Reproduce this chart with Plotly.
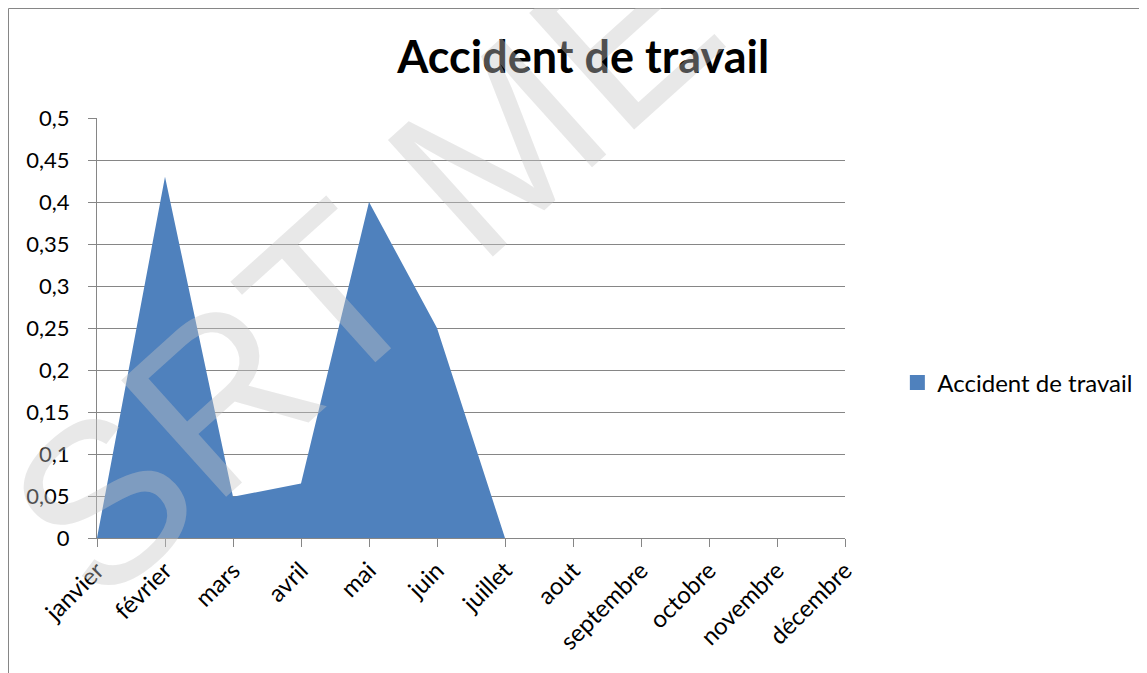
import plotly.graph_objects as go

# mois et valeurs
mois = ["janvier", "février", "mars", "avril", "mai", "juin", "juillet",
        "aout", "septembre", "octobre", "novembre", "décembre"]
accidents = [0, 0.43, 0.049, 0.065, 0.40, 0.25, 0, None, None, None, None, None]

y_tick_vals = [0, 0.05, 0.1, 0.15, 0.2, 0.25, 0.3, 0.35, 0.4, 0.45, 0.5]
y_tick_text = ["0", "0,05", "0,1", "0,15", "0,2", "0,25", "0,3", "0,35", "0,4", "0,45", "0,5"]

serie = "Accident de travail"
bleu = "#4F81BD"
gris = "#868686"
police = "Lato, Calibri, sans-serif"

fig = go.Figure()

fig.add_trace(go.Scatter(
    x=mois,
    y=accidents,
    mode="lines",
    line=dict(width=0, color=bleu),
    fill="tozeroy",
    fillcolor=bleu,
    showlegend=False,
    name=serie,
))

# entree de legende carree, comme dans Excel
fig.add_trace(go.Scatter(
    x=[None],
    y=[None],
    mode="markers",
    marker=dict(symbol="square", size=15, color=bleu),
    name=serie,
))

# la page html ajoute 8px de marge autour de la figure
fig.update_layout(
    width=1147,
    height=673,
    paper_bgcolor="white",
    plot_bgcolor="white",
    font=dict(family=police, size=22, color="black"),
    margin=dict(l=89, r=310, t=110, b=143, autoexpand=False),
    title=dict(
        text="<b>Accident de travail</b>",
        font=dict(family=police, size=45, color="black"),
        x=0.650, xref="paper", xanchor="center",
        y=1 - 49 / 673, yref="container", yanchor="middle",
    ),
    legend=dict(
        x=1.07, y=0.369, xanchor="left", yanchor="middle",
        font=dict(family=police, size=24, color="black"),
        bgcolor="rgba(0,0,0,0)",
    ),
    xaxis=dict(
        type="category",
        range=[0, 11],
        showgrid=False,
        showline=True,
        linecolor=gris,
        linewidth=1,
        ticks="outside",
        ticklen=8,
        tickcolor=gris,
        tickangle=-45,
        tickfont=dict(size=24),
        fixedrange=True,
    ),
    yaxis=dict(
        range=[0, 0.5],
        tickvals=y_tick_vals,
        ticktext=y_tick_text,
        showgrid=True,
        gridcolor=gris,
        gridwidth=1,
        zeroline=False,
        showline=True,
        linecolor=gris,
        ticks="outside",
        ticklen=8,
        tickcolor=gris,
        ticklabelstandoff=14,
        tickfont=dict(size=22),
        fixedrange=True,
    ),
    shapes=[dict(
        type="rect", xref="paper", yref="paper",
        x0=-0.1183, x1=1.6, y0=-1.0, y1=1.2607,
        line=dict(color=gris, width=1),
        fillcolor="rgba(0,0,0,0)",
        layer="above",
    )],
    annotations=[dict(
        text="SRT ME",
        xref="paper", yref="paper",
        x=0.356, y=0.645,
        xanchor="center", yanchor="middle",
        showarrow=False,
        textangle=-42,
        font=dict(family="Liberation Sans, Arial, sans-serif", size=228,
                  color="rgba(197,197,197,0.4)"),
    )],
)

fig.write_html("out.html")
